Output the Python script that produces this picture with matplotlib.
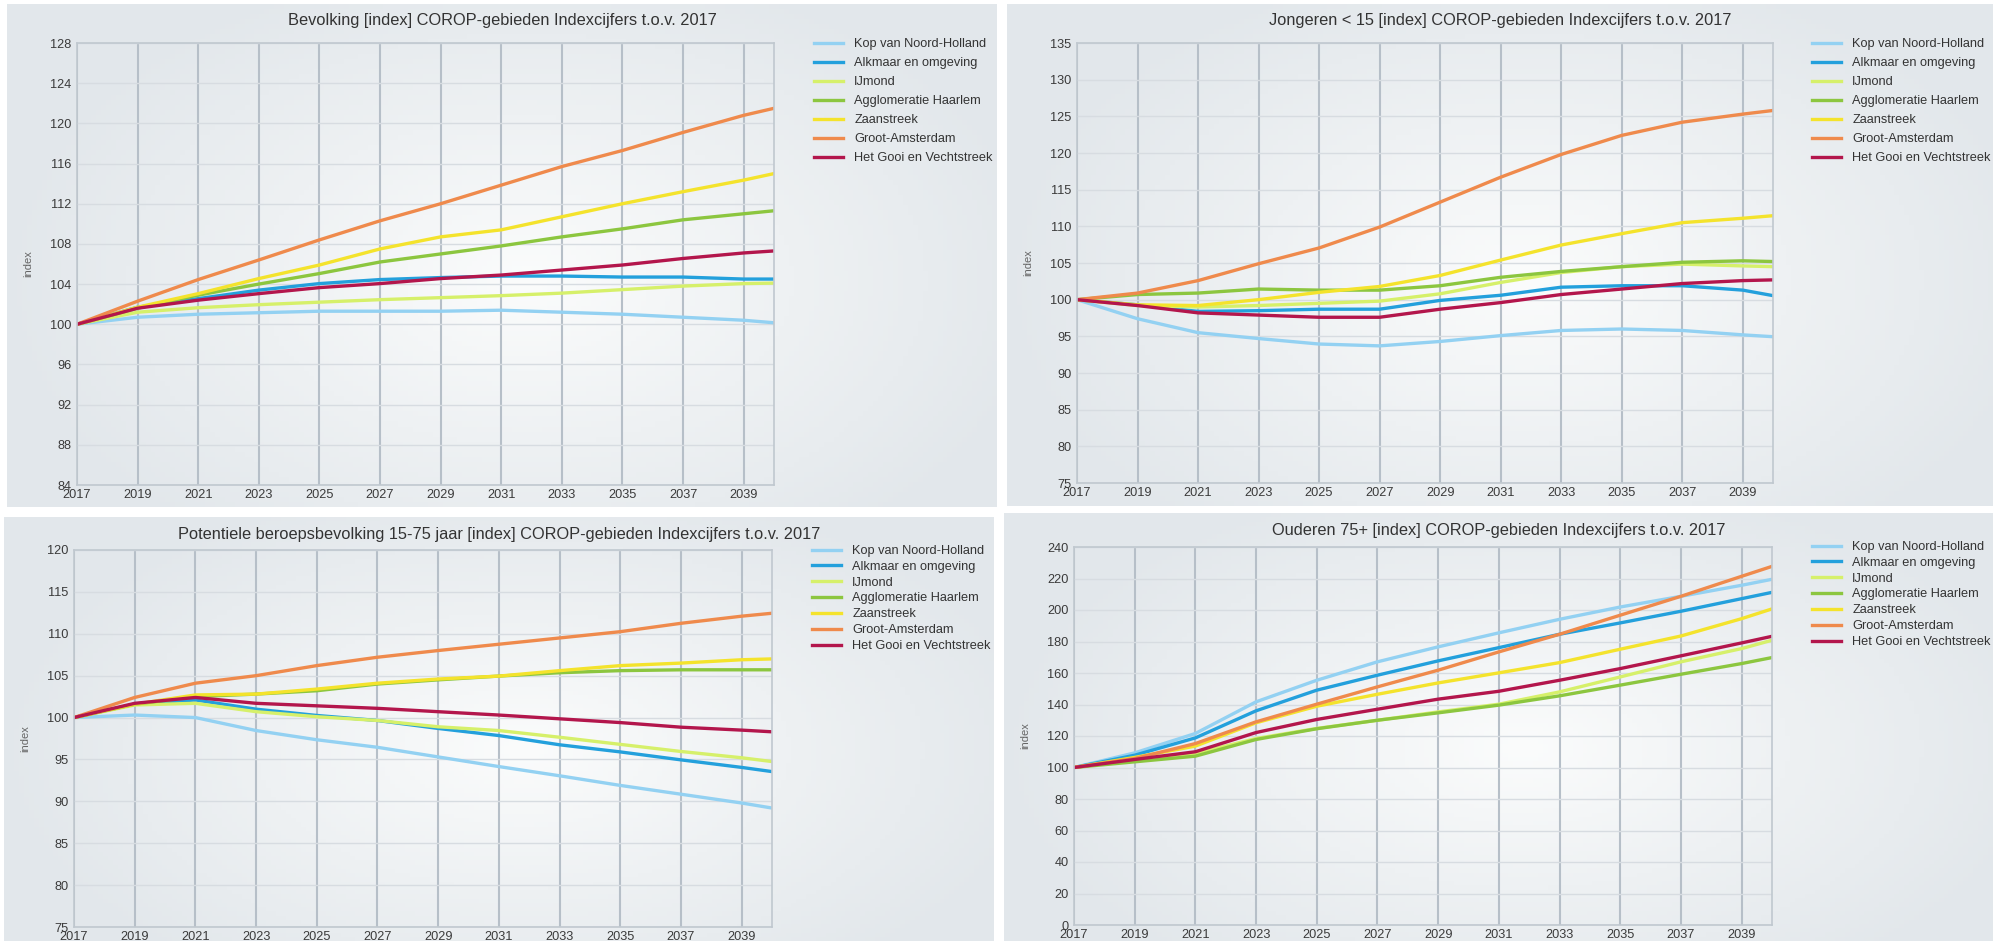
import numpy as np
import matplotlib.pyplot as plt
from matplotlib.colors import LinearSegmentedColormap

plt.rcParams['font.family'] = ['Liberation Sans', 'DejaVu Sans']

W, H = 1995, 941

years = [2017, 2019, 2021, 2023, 2025, 2027, 2029, 2031, 2033, 2035, 2037, 2039, 2040]
regions = ['Kop van Noord-Holland', 'Alkmaar en omgeving', 'IJmond', 'Agglomeratie Haarlem',
           'Zaanstreek', 'Groot-Amsterdam', 'Het Gooi en Vechtstreek']
colors = ['#93d1f2', '#23a0dc', '#d6f06a', '#8cc63f', '#f4e32c', '#ef8a4c', '#b3164c']

# Bevolking
bev_kop = [100, 100.7, 101.0, 101.15, 101.3, 101.3, 101.3, 101.4, 101.2, 101.0, 100.7, 100.4, 100.15]
bev_alk = [100, 101.7, 102.55, 103.4, 104.05, 104.45, 104.65, 104.8, 104.8, 104.7, 104.7, 104.5, 104.5]
bev_ijm = [100, 101.2, 101.65, 101.95, 102.2, 102.45, 102.65, 102.85, 103.1, 103.45, 103.8, 104.05, 104.1]
bev_haa = [100, 101.6, 102.9, 104.0, 105.05, 106.2, 107.0, 107.8, 108.7, 109.5, 110.4, 111.0, 111.3]
bev_zaa = [100, 101.7, 103.05, 104.55, 105.9, 107.5, 108.7, 109.4, 110.7, 112.0, 113.2, 114.35, 115.0]
bev_ams = [100, 102.3, 104.45, 106.4, 108.4, 110.3, 112.0, 113.85, 115.7, 117.3, 119.1, 120.8, 121.5]
bev_goo = [100, 101.6, 102.4, 103.05, 103.65, 104.05, 104.55, 104.9, 105.4, 105.9, 106.55, 107.1, 107.3]

# Jongeren < 15
jon_kop = [100, 97.4, 95.5, 94.7, 93.95, 93.7, 94.3, 95.1, 95.8, 96.0, 95.8, 95.2, 94.95]
jon_alk = [100, 99.3, 98.4, 98.5, 98.7, 98.7, 99.9, 100.6, 101.7, 101.9, 101.9, 101.3, 100.55]
jon_ijm = [100, 99.2, 99.0, 99.2, 99.5, 99.8, 100.8, 102.35, 103.7, 104.5, 104.85, 104.6, 104.5]
jon_haa = [100, 100.7, 100.9, 101.45, 101.3, 101.3, 101.9, 103.05, 103.85, 104.5, 105.1, 105.3, 105.2]
jon_zaa = [100, 99.3, 99.2, 100.0, 101.0, 101.8, 103.3, 105.4, 107.45, 109.0, 110.5, 111.1, 111.45]
jon_ams = [100, 100.9, 102.6, 104.9, 107.05, 109.9, 113.3, 116.7, 119.8, 122.4, 124.2, 125.3, 125.8]
jon_goo = [100, 99.2, 98.2, 97.9, 97.6, 97.6, 98.7, 99.6, 100.7, 101.45, 102.2, 102.6, 102.7]

# Potentiele beroepsbevolking 15-75
pot_kop = [100, 100.3, 100.0, 98.45, 97.35, 96.45, 95.3, 94.15, 93.05, 91.9, 90.85, 89.8, 89.2]
pot_alk = [100, 101.6, 102.1, 101.0, 100.25, 99.65, 98.7, 97.85, 96.75, 95.9, 94.95, 94.05, 93.55]
pot_ijm = [100, 101.5, 101.7, 100.7, 100.1, 99.65, 98.9, 98.45, 97.65, 96.8, 95.95, 95.2, 94.75]
pot_haa = [100, 101.6, 102.5, 102.8, 103.2, 104.0, 104.5, 104.95, 105.35, 105.6, 105.7, 105.7, 105.7]
pot_zaa = [100, 101.6, 102.7, 102.8, 103.4, 104.1, 104.6, 104.95, 105.6, 106.2, 106.5, 106.9, 107.0]
pot_ams = [100, 102.4, 104.1, 105.0, 106.2, 107.2, 108.0, 108.75, 109.5, 110.25, 111.25, 112.1, 112.45]
pot_goo = [100, 101.7, 102.4, 101.7, 101.4, 101.1, 100.7, 100.3, 99.85, 99.4, 98.85, 98.5, 98.3]

# Ouderen 75+
oud_kop = [100, 109.3, 121.6, 141.7, 155.4, 167.1, 176.6, 185.5, 194.1, 201.9, 208.7, 215.7, 219.5]
oud_alk = [100, 107.8, 118.8, 136.0, 149.1, 158.6, 167.7, 176.1, 184.6, 191.8, 199.2, 207.2, 211.2]
oud_ijm = [100, 104.7, 108.9, 118.4, 124.8, 130.0, 135.3, 140.2, 148.0, 157.5, 167.1, 175.5, 180.8]
oud_haa = [100, 103.6, 107.2, 117.8, 124.6, 130.0, 134.7, 139.6, 145.5, 152.3, 159.2, 166.0, 169.8]
oud_zaa = [100, 106.4, 113.6, 128.4, 138.9, 146.5, 153.7, 160.1, 166.6, 175.1, 183.5, 194.5, 200.7]
oud_ams = [100, 105.7, 115.2, 129.0, 140.2, 151.2, 161.8, 173.4, 184.6, 196.7, 208.7, 221.4, 227.7]
oud_goo = [100, 105.1, 110.0, 122.2, 130.5, 137.0, 143.4, 148.4, 155.4, 162.8, 170.9, 179.1, 183.3]

panels = [
    {'title': 'Bevolking [index] COROP-gebieden Indexcijfers t.o.v. 2017',
     'series': [bev_kop, bev_alk, bev_ijm, bev_haa, bev_zaa, bev_ams, bev_goo],
     'yticks': np.arange(84, 129, 4), 'panel': (7, 4, 997, 507), 'plot': (77, 43, 774, 485),
     'legend': (814, 38, 0.55)},
    {'title': 'Jongeren < 15 [index] COROP-gebieden Indexcijfers t.o.v. 2017',
     'series': [jon_kop, jon_alk, jon_ijm, jon_haa, jon_zaa, jon_ams, jon_goo],
     'yticks': np.arange(75, 136, 5), 'panel': (1007, 4, 1993, 506), 'plot': (1077, 43, 1773, 483),
     'legend': (1812, 38, 0.55)},
    {'title': 'Potentiele beroepsbevolking 15-75 jaar [index] COROP-gebieden Indexcijfers t.o.v. 2017',
     'series': [pot_kop, pot_alk, pot_ijm, pot_haa, pot_zaa, pot_ams, pot_goo],
     'yticks': np.arange(75, 121, 5), 'panel': (4, 517, 994, 941), 'plot': (74, 550, 772, 927),
     'legend': (812, 545, 0.3)},
    {'title': 'Ouderen 75+ [index] COROP-gebieden Indexcijfers t.o.v. 2017',
     'series': [oud_kop, oud_alk, oud_ijm, oud_haa, oud_zaa, oud_ams, oud_goo],
     'yticks': np.arange(0, 241, 20), 'panel': (1004, 513, 1993, 941), 'plot': (1074, 547, 1772, 925),
     'legend': (1812, 541, 0.3)},
]


def rect(x0, y0, x1, y1):
    return [x0 / W, 1 - y1 / H, (x1 - x0) / W, (y1 - y0) / H]


# soft glow background like the original screenshots
bg_cmap = LinearSegmentedColormap.from_list('bg', ['#fbfcfc', '#eef1f3', '#e2e7eb'])
gx, gy = np.meshgrid(np.linspace(-1, 1, 200), np.linspace(-1, 1, 100))

fig = plt.figure(figsize=(W / 100, H / 100), dpi=100)
fig.patch.set_facecolor('white')

for p in panels:
    bg = fig.add_axes(rect(*p['panel']))
    glow = np.sqrt(((gx - 0.05) / 0.9) ** 2 + ((gy - 0.1) / 1.1) ** 2)
    bg.imshow(np.clip(glow, 0, 1.2), cmap=bg_cmap, aspect='auto', extent=(0, 1, 0, 1), vmin=0, vmax=1.2)
    bg.set_axis_off()

    ax = fig.add_axes(rect(*p['plot']))
    ax.patch.set_alpha(0)
    for vals, name, c in zip(p['series'], regions, colors):
        ax.plot(years, vals, color=c, lw=2.4, label=name, solid_joinstyle='round')

    ax.set_xlim(2017, 2040)
    yt = p['yticks']
    ax.set_ylim(yt[0], yt[-1])
    ax.set_xticks(range(2017, 2040, 2))
    ax.set_yticks(yt)
    ax.tick_params(length=0, labelsize=9.2, labelcolor='#3a3a3a', pad=4)
    ax.tick_params(axis='x', pad=3)
    ax.grid(axis='x', color='#b6bfc8', lw=1.5)
    ax.grid(axis='y', color='#d7dce1', lw=1.0)
    ax.set_axisbelow(True)
    for s in ax.spines.values():
        s.set_color('#c0c8cf')
        s.set_linewidth(1.2)
    ax.set_ylabel('index', fontsize=8, color='#666666', labelpad=12)

    px0, py0, px1, py1 = p['panel']
    fig.text((px0 + px1) / 2 / W, 1 - (py0 + 17) / H, p['title'], ha='center', va='center',
             fontsize=11.8, color='#333333')

    lx, ly, sp = p['legend']
    ax.legend(loc='upper left', bbox_to_anchor=(lx / W, 1 - ly / H), bbox_transform=fig.transFigure,
              frameon=False, fontsize=9.2, handlelength=2.3, handletextpad=0.85, labelspacing=sp,
              borderpad=0, borderaxespad=0, labelcolor='#333333')

fig.savefig('out.png', dpi=100)
